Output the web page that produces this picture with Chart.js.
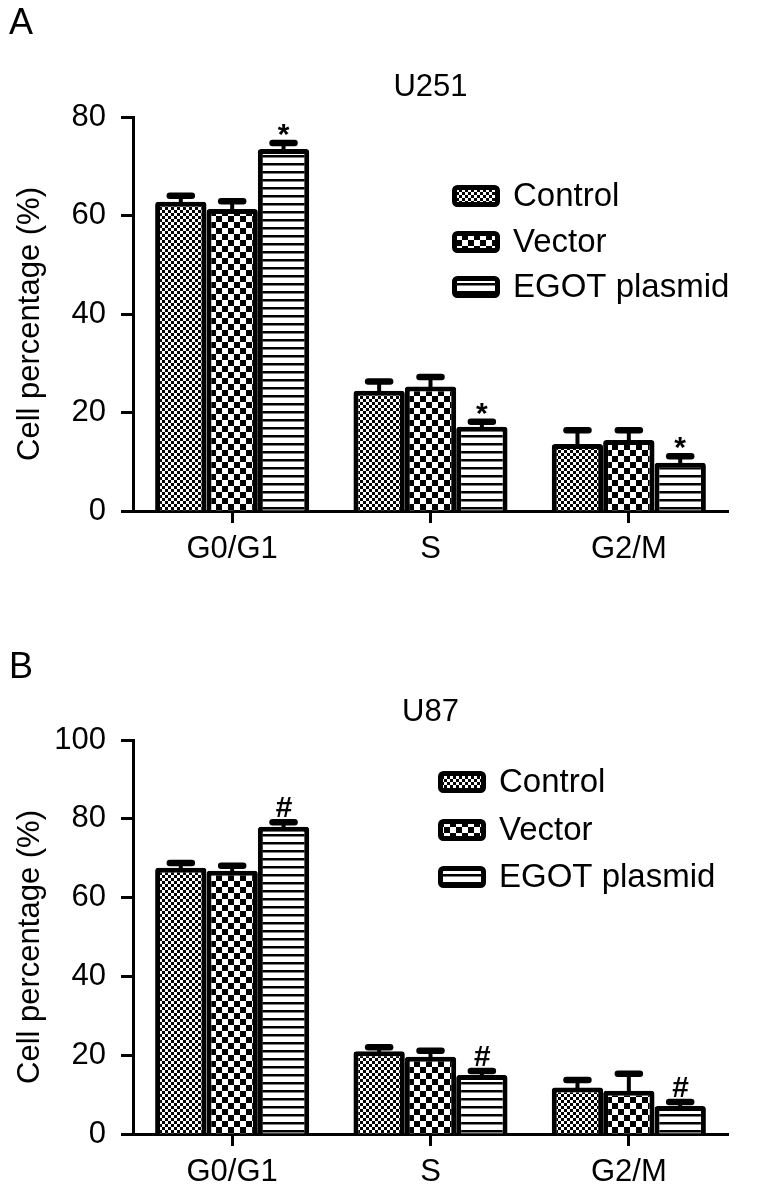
<!DOCTYPE html>
<html>
<head>
<meta charset="utf-8">
<script src="https://cdn.jsdelivr.net/npm/chart.js@4.4.1/dist/chart.umd.min.js"></script>
<style>
    html, body { margin: 0; padding: 0; background: #fff; }
    .panel { position: absolute; left: 0; width: 767px; }
    #panelA { top: 0; height: 600px; }
    #panelB { top: 623px; height: 576px; }
</style>
</head>
<body>
<div class="panel" id="panelA"><canvas id="chartA" width="767" height="600"></canvas></div>
<div class="panel" id="panelB"><canvas id="chartB" width="767" height="576"></canvas></div>
<script>
// ===========================
// Data
// ===========================

const categories = ['G0/G1', 'S', 'G2/M'];
const groupNames = ['Control', 'Vector', 'EGOT plasmid'];

// U251 (panel A)
const u251Control = [62.8, 24.4, 13.6];
const u251Vector = [61.3, 25.3, 14.4];
const u251Egot = [73.5, 17.1, 9.8];
const u251ControlErr = [64.0, 26.3, 16.4];
const u251VectorErr = [62.9, 27.2, 16.4];
const u251EgotErr = [74.7, 18.1, 11.1];
const u251Marks = ['*', '*', '*'];
const u251Ticks = [0, 20, 40, 60, 80];

// U87 (panel B)
const u87Control = [67.6, 21.0, 11.8];
const u87Vector = [66.8, 19.6, 11.0];
const u87Egot = [78.0, 15.0, 7.1];
const u87ControlErr = [68.8, 22.0, 13.7];
const u87VectorErr = [68.1, 21.1, 15.3];
const u87EgotErr = [79.1, 16.0, 8.1];
const u87Marks = ['#', '#', '#'];
const u87Ticks = [0, 20, 40, 60, 80, 100];

const yTitle = 'Cell percentage (%)';

const FONT = "'Liberation Sans', Arial, sans-serif";
Chart.defaults.font.family = FONT;
Chart.defaults.color = '#000';

// ===========================
// Fill patterns
// ===========================

function makePattern(kind) {
    const c = document.createElement('canvas');
    const g = c.getContext('2d');
    if (kind === 'fine') {
        c.width = 6; c.height = 6;
        g.fillStyle = '#fff'; g.fillRect(0, 0, 6, 6);
        g.fillStyle = '#000';
        g.fillRect(0, 0, 3, 3); g.fillRect(3, 3, 3, 3);
    } else if (kind === 'coarse') {
        c.width = 12; c.height = 12;
        g.fillStyle = '#fff'; g.fillRect(0, 0, 12, 12);
        g.fillStyle = '#000';
        g.fillRect(0, 0, 6, 6); g.fillRect(6, 6, 6, 6);
    } else {
        c.width = 8; c.height = 8;
        g.fillStyle = '#fff'; g.fillRect(0, 0, 8, 8);
        g.fillStyle = '#000';
        g.fillRect(0, 3, 8, 2.5);
    }
    return g.createPattern(c, 'repeat');
}

const fills = [makePattern('fine'), makePattern('coarse'), makePattern('lines')];

// ===========================
// Decorations: error bars, marks, legend, titles
// ===========================

const decoPlugin = {
    id: 'deco',
    afterDatasetsDraw(chart, args, opts) {
        const ctx = chart.ctx;
        const y = chart.scales.y;
        ctx.save();
        ctx.strokeStyle = '#000';
        ctx.fillStyle = '#000';

        chart.data.datasets.forEach((ds, i) => {
            const meta = chart.getDatasetMeta(i);
            meta.data.forEach((bar, j) => {
                const yErr = y.getPixelForValue(ds.errUpper[j]);
                ctx.lineCap = 'butt';
                ctx.lineWidth = 4;
                ctx.beginPath();
                ctx.moveTo(bar.x, bar.y + 2);
                ctx.lineTo(bar.x, yErr);
                ctx.stroke();
                ctx.lineCap = 'round';
                ctx.lineWidth = 6.5;
                ctx.beginPath();
                ctx.moveTo(bar.x - 11, yErr);
                ctx.lineTo(bar.x + 11, yErr);
                ctx.stroke();

                if (ds.marks && ds.marks[j]) {
                    ctx.font = opts.markFont;
                    ctx.textAlign = 'center';
                    ctx.textBaseline = 'alphabetic';
                    ctx.fillText(ds.marks[j], bar.x, yErr + opts.markOffset);
                }
            });
        });

        // legend
        chart.data.datasets.forEach((ds, i) => {
            const yc = opts.legendYs[i];
            const bx = opts.legendX;
            ctx.fillStyle = ds.backgroundColor;
            ctx.strokeStyle = '#000';
            ctx.lineWidth = 5;
            ctx.lineJoin = 'round';
            ctx.beginPath();
            ctx.roundRect(bx + 2.5, yc - 8.5, 43, 17, 3);
            ctx.fill();
            ctx.stroke();
            ctx.fillStyle = '#000';
            ctx.font = '33px ' + FONT;
            ctx.textAlign = 'left';
            ctx.textBaseline = 'middle';
            ctx.fillText(ds.label, bx + 61, yc + 1);
        });

        // title, y-axis title and panel letter
        const area = chart.chartArea;
        ctx.font = '31px ' + FONT;
        ctx.textAlign = 'center';
        ctx.textBaseline = 'middle';
        ctx.fillText(opts.title, (area.left + area.right) / 2, opts.titleY);

        ctx.save();
        ctx.translate(30, (area.top + area.bottom) / 2 + 10);
        ctx.rotate(-Math.PI / 2);
        ctx.fillText(yTitle, 0, 0);
        ctx.restore();

        ctx.font = '36px ' + FONT;
        ctx.textAlign = 'left';
        ctx.fillText(opts.letter, 9, opts.letterY);
        ctx.restore();
    }
};

function buildChart(canvasId, series, errs, marks, ticks, deco) {
    const canvas = document.getElementById(canvasId);
    const xHeight = canvas.height - 511;
    const datasets = series.map((values, i) => ({
        label: groupNames[i],
        data: values,
        errUpper: errs[i],
        marks: i === 2 ? marks : null,
        backgroundColor: fills[i],
        borderColor: '#000',
        borderWidth: 5,
        borderRadius: 3,
        borderSkipped: 'start',
        barPercentage: 1.0,
        categoryPercentage: 0.777
    }));

    return new Chart(canvas, {
        type: 'bar',
        data: { labels: categories, datasets: datasets },
        options: {
            responsive: false,
            animation: false,
            layout: { padding: { left: 0, right: 39, top: 117, bottom: 0 } },
            plugins: {
                legend: { display: false },
                tooltip: { enabled: false },
                deco: deco
            },
            scales: {
                x: {
                    afterFit(scale) { scale.height = xHeight; },
                    border: { display: true, color: '#000', width: 3 },
                    grid: {
                        offset: false,
                        drawOnChartArea: false,
                        drawTicks: true,
                        tickLength: 12,
                        tickWidth: 3,
                        tickColor: '#000',
                        color: '#000'
                    },
                    ticks: { font: { size: 31 }, padding: 8, color: '#000' }
                },
                y: {
                    min: ticks[0],
                    max: ticks[ticks.length - 1],
                    afterBuildTicks(scale) { scale.ticks = ticks.map(v => ({ value: v })); },
                    afterFit(scale) { scale.width = 133; },
                    border: { display: true, color: '#000', width: 3 },
                    grid: {
                        drawOnChartArea: false,
                        drawTicks: true,
                        tickLength: 12,
                        tickWidth: 3,
                        tickColor: '#000',
                        color: '#000'
                    },
                    ticks: { font: { size: 31 }, padding: 15, color: '#000' }
                }
            }
        },
        plugins: [decoPlugin]
    });
}

buildChart('chartA',
    [u251Control, u251Vector, u251Egot],
    [u251ControlErr, u251VectorErr, u251EgotErr],
    u251Marks, u251Ticks,
    { title: 'U251', titleY: 87, letter: 'A', letterY: 24,
      legendX: 452, legendYs: [196, 242, 287],
      markFont: 'bold 30px ' + FONT, markOffset: 1 });

buildChart('chartB',
    [u87Control, u87Vector, u87Egot],
    [u87ControlErr, u87VectorErr, u87EgotErr],
    u87Marks, u87Ticks,
    { title: 'U87', titleY: 89, letter: 'B', letterY: 45,
      legendX: 438, legendYs: [159, 207, 254],
      markFont: 'bold italic 30px ' + FONT, markOffset: -5 });
</script>
</body>
</html>
